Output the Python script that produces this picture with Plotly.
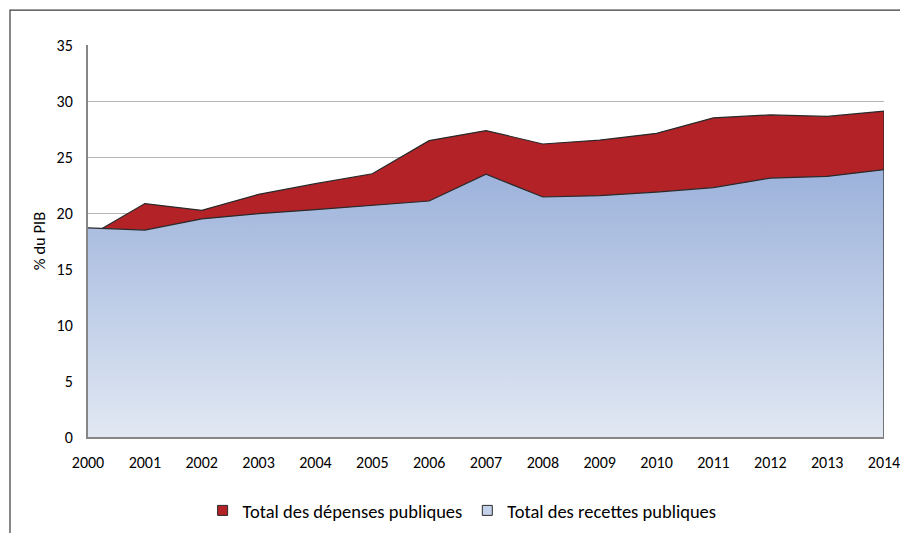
import plotly.graph_objects as go

years = list(range(2000, 2015))
depenses = [17.9, 20.87, 20.27, 21.7, 22.65, 23.54, 26.5, 27.4, 26.2, 26.55, 27.15, 28.54, 28.8, 28.66, 29.14]
recettes = [18.7, 18.5, 19.5, 19.97, 20.33, 20.71, 21.1, 23.5, 21.46, 21.58, 21.9, 22.3, 23.15, 23.3, 23.9]
yticks = [0, 5, 10, 15, 20, 25, 30, 35]
names = ["Total des dépenses publiques", "Total des recettes publiques"]

FONT = "Carlito, 'Liberation Sans Narrow', 'Liberation Sans', Arial, sans-serif"
RED = "#b22226"
OUTLINE = "#2a2a2a"

fig = go.Figure()
fig.add_trace(go.Scatter(
    x=years, y=depenses, name=names[0], showlegend=False,
    mode="lines", fill="tozeroy", fillcolor=RED,
    line=dict(color=OUTLINE, width=1.2),
))
fig.add_trace(go.Scatter(
    x=years, y=recettes, name=names[1], showlegend=False,
    mode="lines", fill="tozeroy",
    fillgradient=dict(type="vertical", start=0, stop=max(recettes),
                      colorscale=[[0, "#e1e8f3"], [1, "#9cb2db"]]),
    line=dict(color=OUTLINE, width=1.2),
))
# right edge outline of the areas
fig.add_trace(go.Scatter(
    x=[years[-1], years[-1]], y=[0, depenses[-1]], mode="lines",
    line=dict(color=OUTLINE, width=1.2), showlegend=False, hoverinfo="skip",
))
# legend-only square swatches
for nm, col in zip(names, [RED, "#c3d1ea"]):
    fig.add_trace(go.Scatter(
        x=[None], y=[None], name=nm, mode="markers",
        marker=dict(symbol="square", size=10, color=col,
                    line=dict(color=OUTLINE, width=1)),
    ))

# page body adds an 8px offset; figure is sized/margined to compensate
fig.update_layout(
    width=900, height=525,
    margin=dict(l=80, r=24, t=37, b=96, autoexpand=False),
    paper_bgcolor="white", plot_bgcolor="white",
    font=dict(family=FONT, size=16, color="#000000"),
    showlegend=True,
    legend=dict(orientation="h", x=0.47, xanchor="center", y=-0.14, yanchor="top",
                font=dict(family=FONT, size=18.5), itemwidth=30, traceorder="normal"),
    xaxis=dict(range=[2000, 2014], tickmode="array", tickvals=years,
               ticktext=[str(y) for y in years], showgrid=False,
               showline=True, linecolor="#868686", linewidth=2,
               ticks="outside", ticklen=10, tickcolor="rgba(0,0,0,0)",
               zeroline=False, tickfont=dict(size=16), automargin=False),
    yaxis=dict(range=[0, 35.05], tickvals=yticks, showgrid=True,
               gridcolor="#b5b5b5", gridwidth=1.3,
               showline=True, linecolor="#868686", linewidth=2,
               ticks="outside", ticklen=10, tickcolor="rgba(0,0,0,0)",
               zeroline=False, tickfont=dict(size=16), automargin=False,
               title=dict(text="% du PIB", font=dict(size=16.5), standoff=7)),
    shapes=[dict(type="path", xref="paper", yref="paper",
                 path="M -0.098 -0.3 L -0.098 1.089 L 1.1 1.089",
                 line=dict(color="#3a3a3a", width=1.2))],
)

fig.write_html("out.html")
